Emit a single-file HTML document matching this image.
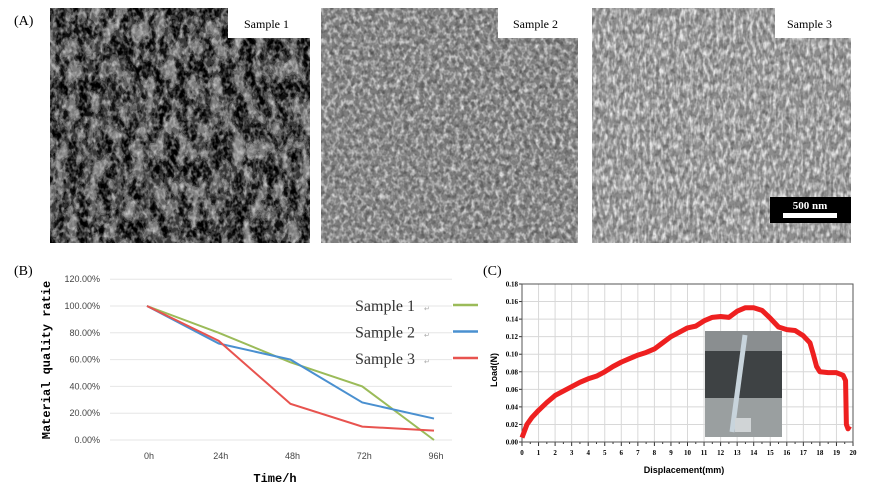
<!DOCTYPE html>
<html><head><meta charset="utf-8">
<style>
body{margin:0;background:#fff;width:891px;height:491px;overflow:hidden;font-family:"Liberation Serif",serif;}
svg{position:absolute;left:0;top:0}
</style></head>
<body>
<svg width="891" height="491">
<defs>
<filter id="t1" x="0" y="0" width="100%" height="100%"><feTurbulence type="fractalNoise" baseFrequency="0.09 0.05" numOctaves="3" seed="3"/><feColorMatrix type="matrix" values="0 0 0 0 0 0 0 0 0 0 0 0 0 0 0 1.6 0 0 0 -0.4"/><feComponentTransfer><feFuncA type="discrete" tableValues="1 0.9 0.6 0.3 0.1 0"/></feComponentTransfer></filter>
<filter id="t2" x="0" y="0" width="100%" height="100%"><feTurbulence type="fractalNoise" baseFrequency="0.25 0.18" numOctaves="2" seed="7"/><feColorMatrix type="matrix" values="0 0 0 0 1 0 0 0 0 1 0 0 0 0 1 2.2 0 0 0 -0.9"/></filter>
<filter id="t3" x="0" y="0" width="100%" height="100%"><feTurbulence type="fractalNoise" baseFrequency="0.3 0.12" numOctaves="2" seed="11"/><feColorMatrix type="matrix" values="0 0 0 0 1 0 0 0 0 1 0 0 0 0 1 2.4 0 0 0 -0.9"/></filter>
<filter id="t4" x="0" y="0" width="100%" height="100%"><feTurbulence type="fractalNoise" baseFrequency="0.2 0.2" numOctaves="2" seed="5"/><feColorMatrix type="matrix" values="0 0 0 0 0 0 0 0 0 0 0 0 0 0 0 2 0 0 0 -0.9"/></filter>
</defs>
<text x="14" y="25" font-size="14">(A)</text>
<g>
<rect x="50" y="8" width="260" height="235" fill="#8a8a8a"/>
<rect x="50" y="8" width="260" height="235" filter="url(#t1)" fill="#000"/>
<rect x="50" y="8" width="260" height="235" filter="url(#t2)" opacity="0.6"/>
<rect x="228" y="8" width="82" height="30" fill="#fff"/>
<text x="244" y="28" font-size="12">Sample 1</text>
</g>
<g>
<rect x="321" y="8" width="257" height="235" fill="#7e7e7e"/>
<rect x="321" y="8" width="257" height="235" filter="url(#t2)" opacity="0.8"/>
<rect x="321" y="8" width="257" height="235" filter="url(#t4)" opacity="0.4"/>
<rect x="498" y="8" width="80" height="30" fill="#fff"/>
<text x="513" y="28" font-size="12">Sample 2</text>
</g>
<g>
<rect x="592" y="8" width="259" height="235" fill="#8c8c8c"/>
<rect x="592" y="8" width="259" height="235" filter="url(#t3)" opacity="0.8"/>
<rect x="592" y="8" width="259" height="235" filter="url(#t4)" opacity="0.35"/>
<rect x="775" y="8" width="76" height="30" fill="#fff"/>
<text x="787" y="28" font-size="12">Sample 3</text>
<rect x="770" y="197" width="81" height="26" fill="#000"/>
<text x="810" y="209" font-size="11" fill="#fff" text-anchor="middle" font-weight="bold">500 nm</text>
<rect x="783" y="213" width="54" height="5" fill="#fff"/>
</g>
<text x="14" y="275" font-size="14">(B)</text>
<g id="chartB"></g>
<text x="483" y="275" font-size="14">(C)</text>
<g id="chartC"></g>
</svg>
<script>
const bCats=["0h","24h","48h","72h","96h"];
const bS1=[100,80,58,40,0];
const bS2=[100,72,60,28,16];
const bS3=[100,74,27,10,7];
const bTicks=[0,20,40,60,80,100,120];
const bNames=["Sample  1","Sample  2","Sample  3"];
const bColors=["#9bbb59","#4a90d0","#e8534f"];
const cTicksY=[0,0.02,0.04,0.06,0.08,0.10,0.12,0.14,0.16,0.18];
const cTickLabY=["0.00","0.02","0.04","0.06","0.08","0.10","0.12","0.14","0.16","0.18"];
const cDisp=[0,0.3,0.6,1,1.5,2,2.5,3,3.5,4,4.5,5,5.5,6,6.5,7,7.5,8,8.5,9,9.5,10,10.5,11,11.5,12,12.5,13,13.5,14,14.5,15,15.5,16,16.5,17,17.4,17.6,17.8,18,18.5,19,19.4,19.55,19.6,19.7,19.8];
const cLoad=[0.005,0.02,0.028,0.036,0.045,0.053,0.058,0.063,0.068,0.072,0.075,0.08,0.086,0.091,0.095,0.099,0.102,0.106,0.113,0.12,0.125,0.13,0.132,0.138,0.142,0.143,0.142,0.149,0.153,0.153,0.15,0.141,0.131,0.128,0.127,0.121,0.113,0.1,0.086,0.08,0.079,0.079,0.076,0.07,0.02,0.015,0.018];
const NS="http://www.w3.org/2000/svg";
function mk(p,t,a){const e=document.createElementNS(NS,t);for(const k in a)e.setAttribute(k,a[k]);p.appendChild(e);return e;}
// Chart B
const gB=document.getElementById('chartB');
const bx=i=>147+i*71.75, by=v=>440-v*1.34;
bTicks.forEach(v=>{
 const l=mk(gB,'line',{x1:110,x2:452,y1:by(v),y2:by(v),stroke:'#e6e6e6','stroke-width':1});
 
 
 const t=mk(gB,'text',{x:100,y:by(v)+3,'font-size':9,'text-anchor':'end','font-family':'Liberation Sans, sans-serif',fill:'#444'});
 t.textContent=v.toFixed(2)+'%';
 
 
});
bCats.forEach((c,i)=>{
 const t=mk(gB,'text',{x:bx(i)+2,y:459,'font-size':9,'text-anchor':'middle','font-family':'Liberation Sans, sans-serif',fill:'#444'});
 t.textContent=c;
 
 
});
[bS1,bS2,bS3].forEach((s,k)=>{
 const p=mk(gB,'polyline',{points:s.map((v,i)=>bx(i)+','+by(v)).join(' '),fill:'none',stroke:bColors[k],'stroke-width':2});
 
 
 const ly=305+k*26.5;
 const t=mk(gB,'text',{x:355,y:ly+6,'font-size':16,fill:'#333'});
 t.textContent=bNames[k];
 
 
 const r=mk(gB,'text',{x:424,y:ly+6,'font-size':7,fill:'#aaa'});r.textContent='↵';
 mk(gB,'line',{x1:453,x2:478,y1:ly,y2:ly,stroke:bColors[k],'stroke-width':2.5});
});
let yt=mk(gB,'text',{x:0,y:0,'font-size':12,'font-weight':'bold','font-family':'Liberation Mono, monospace','text-anchor':'middle',transform:'translate(50,360) rotate(-90)'});
yt.textContent='Material quality ratie';


let xt=mk(gB,'text',{x:275,y:482,'font-size':12,'font-weight':'bold','font-family':'Liberation Mono, monospace','text-anchor':'middle'});
xt.textContent='Time/h';


// Chart C
const gC=document.getElementById('chartC');
const cx=v=>522+v*16.55, cy=v=>442-v*877.8;
for(let i=0;i<=20;i++){
 const l=mk(gC,'line',{x1:cx(i),x2:cx(i),y1:284,y2:442,stroke:'#d8d8d8'});
 
 
 mk(gC,'line',{x1:cx(i),x2:cx(i),y1:442,y2:446,stroke:'#333'});
 if(i<20)mk(gC,'line',{x1:cx(i+0.5),x2:cx(i+0.5),y1:442,y2:444,stroke:'#333'});
 const t=mk(gC,'text',{x:cx(i),y:455,'font-size':7,'font-weight':'bold','text-anchor':'middle','font-family':'Liberation Serif, serif'});
 t.textContent=i;
 
 
}
cTicksY.forEach((v,i)=>{
 const l=mk(gC,'line',{x1:522,x2:853,y1:cy(v),y2:cy(v),stroke:'#d8d8d8'});
 
 
 mk(gC,'line',{x1:519,x2:522,y1:cy(v),y2:cy(v),stroke:'#333'});
 const t=mk(gC,'text',{x:518,y:cy(v)+2.5,'font-size':7,'font-weight':'bold','text-anchor':'end','font-family':'Liberation Serif, serif'});
 t.textContent=cTickLabY[i];
 
 
});
mk(gC,'rect',{x:522,y:284,width:331,height:158,fill:'none',stroke:'#555','stroke-width':1});
const inset=mk(gC,'g',{});


mk(inset,'rect',{x:705,y:331,width:77,height:106,fill:'#3e4244'});
mk(inset,'rect',{x:705,y:331,width:77,height:20,fill:'#8a8e90'});
mk(inset,'rect',{x:705,y:398,width:77,height:39,fill:'#9a9fa0'});
mk(inset,'line',{x1:745,y1:335,x2:732,y2:432,stroke:'#c8d4dc','stroke-width':5});
mk(inset,'rect',{x:735,y:418,width:16,height:14,fill:'#d0d4d6'});
const curve=mk(gC,'polyline',{points:cDisp.map((d,i)=>cx(d)+','+cy(cLoad[i])).join(' '),fill:'none',stroke:'#ee2020','stroke-width':5,'stroke-linejoin':'round'});


let cyt=mk(gC,'text',{x:0,y:0,'font-size':9,'font-weight':'bold','font-family':'Liberation Sans, sans-serif','text-anchor':'middle',transform:'translate(497,370) rotate(-90)'});
cyt.textContent='Load(N)';


let cxt=mk(gC,'text',{x:684,y:473,'font-size':9,'font-weight':'bold','font-family':'Liberation Sans, sans-serif','text-anchor':'middle'});
cxt.textContent='Displacement(mm)';


</script>
</body></html>
